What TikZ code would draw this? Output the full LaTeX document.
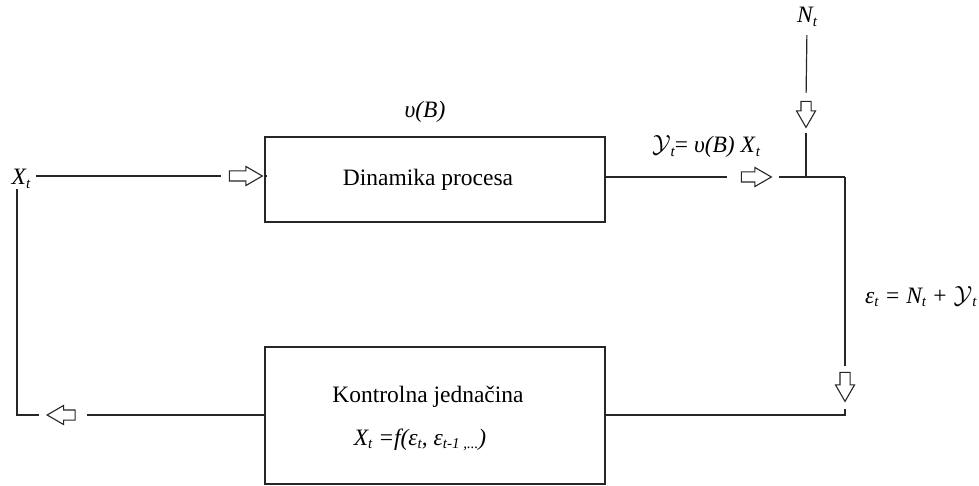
\documentclass[tikz,border=0pt]{standalone}
\usepackage{fontspec}
\setmainfont{Liberation Serif}
\usetikzlibrary{shapes.arrows}
\newcommand{\sbs}[1]{\raisebox{-0.35ex}{\fontsize{15}{15}\selectfont\itshape #1}}
\tikzset{
  wire/.style={line width=1.2pt, draw=black!85},
  blockbox/.style={draw=black!85, line width=1.2pt, fill=white, inner sep=0pt},
  txt/.style={inner sep=0pt, font=\fontsize{23.5}{26}\selectfont},
  hollow/.style={single arrow, draw=black!85, line width=1.1pt, fill=white,
    inner sep=0pt, inner ysep=4.5pt, minimum height=#1,
    single arrow head extend=4.5pt, single arrow tip angle=60},
  hollow/.default=30pt
}
\begin{document}
\begin{tikzpicture}[x=1pt,y=-1pt]
\useasboundingbox (0,0) rectangle (979,486);

% blocks
\node[blockbox, minimum width=340pt, minimum height=85pt] (dyn) at (435,179.5) {};
\node[blockbox, minimum width=340pt, minimum height=137pt] (ctl) at (435,415.5) {};
\node[txt, anchor=base] (dyntxt) at (428,186) {Dinamika procesa};
\node[txt, anchor=base] (ctltxt) at (428,402) {Kontrolna jednačina};
\node[txt, anchor=base] (law) at (420,445) {\itshape X\sbs{t} =f(ε\sbs{t}, ε\sbs{t-1 ,...})};

% signal labels
\node[txt] (xt) at (21,179) {\itshape X\sbs{t}};
\node[txt, anchor=base] (nt) at (807,23) {\itshape N\sbs{t}};
\node[txt, anchor=base] (vb) at (425,118) {\itshape υ(B)};
\node[txt, anchor=base] (yt) at (706,153) {$\mathcal{Y}$\sbs{t}= \textit{υ(B) X}\sbs{t}};
\node[txt, anchor=base west] (eps) at (865,303) {\itshape ε\sbs{t} = N\sbs{t} + \upshape$\mathcal{Y}$\sbs{t}};

% hollow block arrows
\node[hollow=33pt] (a1) at (241.5,176) {};
\node[hollow=30pt] (a2) at (752,177) {};
\node[hollow=26pt, rotate=-90] (a3) at (806,110) {};
\node[hollow=29pt, rotate=-90] (a4) at (845,382.5) {};
\node[hollow=28pt, rotate=180] (a5) at (65.5,415) {};

% junctions and corners
\coordinate (J) at (845,177);
\coordinate (C) at (845,415);
\coordinate (L) at (17,415);

% connectors
\draw[wire, shorten <=6pt, shorten >=8pt] (xt.east |- a1.tail) -- (a1.tail);
\draw[wire, shorten <=4pt] (a1.tip) -- (dyn.west |- a1.tip);
\draw[wire, shorten >=14pt] (dyn.east |- a2.tail) -- (a2.tail);
\draw[wire, shorten <=7pt] (a2.tip) -- (J);
\draw[wire, shorten <=8pt, shorten >=8pt] (nt.south) -- (a3.tail);
\draw[wire, shorten <=5pt] (a3.tip) -- (a3.tip |- J);
\draw[wire, shorten >=6pt] (J) -- (a4.tail);
\draw[wire, shorten <=7pt] (a4.tip) -- (C) -- (ctl.east |- C);
\draw[wire, shorten >=11pt] (ctl.west |- C) -- (a5.tail);
\draw[wire, shorten <=7pt] (a5.tip) -- (L) -- (L |- xt.south);
\end{tikzpicture}
\end{document}
